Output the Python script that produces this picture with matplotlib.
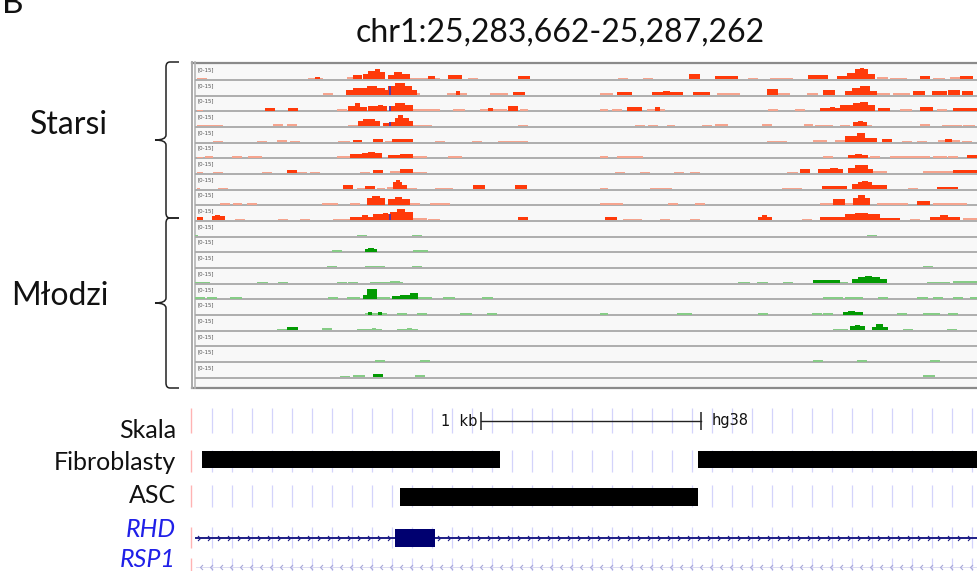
import numpy as np
import matplotlib
matplotlib.use("Agg")
import matplotlib.pyplot as plt
from matplotlib.path import Path
from matplotlib.patches import PathPatch, Rectangle

# ---------------- DATA (bp offsets from chr1:25,283,662; coverage 0-15) ----------------
title = "chr1:25,283,662-25,287,262"
group_labels = ["Starsi", "Młodzi"]
track_range_label = "[0-15]"

starsi_1 = [(18,64,1.5),(523,591,1.5),(555,577,2.5),(700,727,2),(727,768,4),(773,795,5),(795,827,8),
            (827,850,10),(850,873,7),(886,914,4),(914,950,7),(950,986,5),(986,1123,1.5),(1068,1100,3),
            (1159,1223,4),(1250,1295,1.5),(1477,1532,3),(1932,1977,1.5),(2045,2091,1.5),(2255,2305,5),
            (2373,2477,3.5),(2523,2568,1.5),(2623,2727,1.5),(2795,2886,4),(2927,2973,3),(2973,3009,6),
            (3009,3068,10),(3030,3050,11),(3068,3100,5),(3109,3159,2),(3168,3245,1.5),(3305,3350,3),
            (3364,3418,1.5),(3441,3486,2),(3486,3545,3)]
starsi_2 = [(591,636,1.5),(695,727,5),(727,791,7),(791,836,9),(836,873,7),(873,886,5),(886,918,9),
            (918,964,12),(964,995,9),(995,1018,5),(1018,1032,2),(1155,1245,1.5),(1195,1214,4),
            (1350,1432,1.5),(1455,1509,2.5),(1850,1909,1.5),(1927,1995,3),(2086,2227,2.5),(2136,2168,4),
            (2273,2350,2.5),(2382,2486,1.5),(2609,2659,6),(2659,2714,2),(2791,2841,2),(2864,2918,5),
            (2964,2995,4),(2995,3032,7),(3032,3077,9),(3077,3109,4),(3109,3168,2),(3182,3259,1.5),
            (3273,3327,4),(3359,3427,4),(3432,3486,5),(3495,3545,4)]
starsi_3 = [(18,45,1),(327,373,2.5),(432,477,2.5),(655,700,1.5),(705,736,5),(736,759,8),(759,791,4),
            (795,882,4.5),(841,864,6),(895,918,5),(918,964,8),(964,1000,6),(1000,1123,2),(1182,1236,1.5),
            (1305,1373,2),(1341,1364,3),(1373,1427,2),(1432,1477,5),(1486,1523,2),(1850,1886,2),
            (1905,1950,2),(1973,2041,3.5),(2064,2145,2),(2100,2123,4),(2614,2659,1.5),(2736,2782,1.5),
            (2850,2941,2.5),(2895,2918,4),(2941,3000,6),(3000,3032,8),(3032,3068,9),(3068,3100,6),
            (3114,3168,3),(3214,3268,1.5),(3305,3364,4),(3382,3427,2),(3455,3564,2.5)]
starsi_4 = [(18,136,1.5),(364,409,2),(427,473,2),(705,750,1.5),(750,773,5),(773,827,7.5),(827,850,5),
            (864,895,3),(895,918,4),(918,982,8),(932,955,11),(982,1000,5),(1000,1086,1.5),(1477,1523,1.5),
            (2009,2054,1.5),(2068,2114,1.5),(2155,2191,1.5),(2314,2359,1.5),(2373,2432,2),(2586,2632,2),
            (2777,2818,2),(2827,2909,1.5),(2941,2986,1.5),(3000,3064,4),(3023,3045,5),(3064,3086,1.5),
            (3305,3350,2),(3405,3495,1.5),(3500,3555,1.5)]
starsi_5 = [(91,136,1.5),(291,336,1.5),(382,427,2),(441,486,1.5),(659,714,1.5),(727,768,2.5),(818,864,3),
            (873,905,1.5),(905,1000,3),(1100,1145,1.5),(1268,1314,1.5),(1386,1523,1.5),(2609,2700,1.5),
            (2818,2882,2),(2918,2964,2),(2964,3018,6),(3018,3055,9),(3055,3109,4),(3132,3177,3),
            (3223,3268,1.5),(3291,3336,1.5),(3386,3486,2),(3418,3450,3),(3495,3541,1.5)]
starsi_6 = [(18,45,1),(55,91,1.5),(177,223,1.5),(250,314,2),(655,714,1.5),(714,768,4),(768,859,5),
            (795,827,6),(886,941,3),(941,1000,4),(1000,1064,1.5),(1159,1223,2),(1850,1886,1.5),
            (1927,2045,2),(2864,2909,1.5),(2977,3068,3),(3009,3041,4),(3077,3123,1.5),(3168,3350,1.5),
            (3364,3427,2),(3432,3477,1.5),(3518,3564,3)]
starsi_7 = [(18,45,1),(91,136,1.5),(314,359,1.5),(427,473,3),(473,518,1.5),(532,577,1.5),(759,805,1.5),
            (818,864,3),(895,941,2),(941,1000,4),(1000,1064,1.5),(1918,1964,1.5),(2032,2077,1.5),
            (2186,2232,1.5),(2259,2305,1.5),(2700,2750,1.5),(2759,2805,4),(2841,2955,4),(2895,2932,5),
            (2977,3009,5),(3009,3068,8),(3068,3091,4),(3091,3155,2),(3318,3455,2),(3455,3564,3)]
starsi_8 = [(18,32,1),(114,159,1.5),(682,727,4),(745,782,1.5),(782,827,3),(836,873,1.5),(882,909,2),
            (909,950,7),(923,941,9),(950,973,4),(973,1018,1.5),(1100,1182,1.5),(1273,1327,4),(1464,1518,4),
            (1850,1886,1.5),(2077,2177,1.5),(2677,2768,1.5),(2859,2973,3),(2995,3023,5),(3023,3086,7),
            (3041,3068,8),(3086,3155,4),(3250,3295,1.5),(3382,3477,2.5)]
starsi_9 = [(123,168,1.5),(182,223,1.5),(245,291,1.5),(586,659,1.5),(714,759,1.5),(791,873,7),
            (814,850,8.5),(886,986,6),(918,950,8),(986,1032,1.5),(1077,1168,1.5),(1850,1955,1.5),
            (2159,2205,1.5),(2282,2327,1.5),(2850,2909,2),(2909,2964,6),(2964,3000,2),(3000,3077,7),
            (3023,3055,10),(3109,3168,2),(3168,3250,1.5),(3291,3350,4),(3364,3518,1.5)]
starsi_10 = [(18,45,3),(86,145,4),(100,123,5),(191,236,1.5),(386,432,1.5),(486,532,1.5),(636,714,1.5),
             (714,818,3.5),(768,795,5),(818,895,6),(864,886,7),(895,1000,8),(927,964,11),(1000,1064,2),
             (1068,1123,1.5),(1477,1523,3),(1873,1927,3),(1955,2041,1.5),(2123,2168,1.5),(2259,2305,1.5),
             (2568,2632,3),(2586,2609,5),(2768,2814,1.5),(2850,2964,3.5),(2964,3123,6),(3009,3068,7),
             (3123,3214,2.5),(3259,3305,1.5),(3350,3486,3.5),(3395,3432,5),(3500,3564,2)]

mlodzi_1 = [(9,23,1.5),(745,791,1.5),(995,1041,1.5),(3064,3109,1.5)]
mlodzi_2 = [(632,677,1.5),(782,836,3),(795,823,4),(1000,1068,1.5),(1023,1045,2)]
mlodzi_3 = [(609,655,1.5),(782,873,1.5),(995,1041,1.5),(3318,3364,1.5)]
mlodzi_4 = [(9,77,1.5),(291,341,1.5),(386,432,1.5),(655,700,1.5),(705,750,1.5),(805,955,1.5),(895,941,2),
            (2477,2532,1.5),(2564,2614,1.5),(2682,2727,1.5),(2818,2895,3),(2895,2941,3),(2941,2977,1.5),
            (2995,3023,4),(3023,3123,6),(3055,3086,7),(3123,3155,4),(3336,3441,1.5),(3455,3564,2)]
mlodzi_5 = [(9,55,1.5),(64,109,1.5),(168,223,1.5),(614,659,1.5),(700,759,1.5),(723,741,2),(773,791,4),
            (791,836,10),(836,864,2),(864,895,1.5),(905,941,3),(941,986,4),(986,1023,6),(1023,1086,2),
            (1136,1191,1.5),(1314,1364,2),(2864,2909,1.5),(2909,2955,2),(2964,3045,1.5),(3114,3159,1.5),
            (3291,3341,1.5),(3364,3409,1.5),(3455,3500,1.5),(3532,3564,1.5)]
mlodzi_6 = [(782,882,2),(795,814,3),(841,859,3),(927,973,1.5),(1018,1064,2),(1214,1268,1.5),
            (1336,1382,1.5),(1850,1886,1.5),(2200,2268,2),(2568,2614,1.5),(2814,2859,1.5),(2864,2909,1.5),
            (2955,3045,3),(2977,3009,4),(3200,3245,2),(3318,3395,1.5),(3432,3477,2)]
mlodzi_7 = [(382,427,1.5),(427,477,3),(586,632,2),(745,859,1.5),(814,832,2),(927,1023,1.5),(973,995,2),
            (2909,2977,1.5),(2986,3055,4),(3009,3032,5),(3086,3159,3),(3105,3136,6),(3227,3273,1.5),
            (3427,3473,1.5)]
mlodzi_8 = []
mlodzi_9 = [(827,873,1.5),(1032,1077,1.5),(2818,2864,1.5),(3018,3064,1.5),(3350,3395,1.5)]
mlodzi_10 = [(668,714,1.5),(727,782,2),(818,864,3.5),(1009,1055,2),(3318,3373,2)]

starsi_tracks = [starsi_1, starsi_2, starsi_3, starsi_4, starsi_5,
                 starsi_6, starsi_7, starsi_8, starsi_9, starsi_10]
mlodzi_tracks = [mlodzi_1, mlodzi_2, mlodzi_3, mlodzi_4, mlodzi_5,
                 mlodzi_6, mlodzi_7, mlodzi_8, mlodzi_9, mlodzi_10]

# small purple marks inside some Starsi tracks (track index, height)
mark_pos = 892
mark_tracks = [(1, 9), (2, 5), (3, 4), (9, 6)]

# annotation rows
row_labels = ["Skala", "Fibroblasty", "ASC", "RHD", "RSP1"]
scale_bar = (1309, 2309)          # 1 kb
scale_text = ("1  kb", "hg38")
fibroblasty = [(41, 1395), (2295, 3600)]
asc = [(941, 2295)]
rhd_span = (14, 3600)
rhd_exon = (918, 1100)
rsp1_span = (14, 3600)

# ---------------- LAYOUT ----------------
W, H = 977, 571
fig = plt.figure(figsize=(W / 100, H / 100), dpi=100)
BPPX = 1000 / 220.0
ORIGIN = 193
FONT = ["Lato", "DejaVu Sans"]

def rect(x0, x1, y0, y1):
    return [x0 / W, 1 - y1 / H, (x1 - x0) / W, (y1 - y0) / H]

def xlim_px(x0, x1):
    return ((x0 - ORIGIN) * BPPX, (x1 - ORIGIN) * BPPX)

# background axes in pixel coordinates
bg = fig.add_axes([0, 0, 1, 1], zorder=0)
bg.set_xlim(0, W); bg.set_ylim(H, 0); bg.axis("off")
bg.add_patch(Rectangle((195, 64), W - 195, 323, facecolor="#f8f8f8", edgecolor="none"))
bg.plot([192, W], [63, 63], color="#8a8a8a", lw=1.6)
bg.plot([192, W], [387.5, 387.5], color="#8a8a8a", lw=1.6)
bg.plot([192, 192], [62, 388], color="#a9a9a9", lw=1.4)
bg.plot([194.8, 194.8], [62, 388], color="#b5b5b5", lw=1.2)

baselines = [79.3 + i * 15.68 for i in range(20)]
for b in baselines:
    bg.plot([195, W], [b + 0.6, b + 0.6], color="#a8a8a8", lw=1.3, solid_capstyle="butt")

RED, RED_L = "#ff3a0a", "#f6a48e"
GRN, GRN_L = "#039a03", "#86cc86"

def draw_track(i, segs, col, col_l):
    b = baselines[i]
    ax = fig.add_axes(rect(195, W, b - 15.0, b), zorder=1)
    ax.set_xlim(*xlim_px(195, W)); ax.set_ylim(0, 15.0)
    ax.axis("off"); ax.patch.set_alpha(0)
    for s, e, v in segs:
        ax.bar(s, v, width=e - s, align="edge", color=(col_l if v <= 2 else col),
               lw=0, antialiased=True)
    return ax

track_axes = []
for i, segs in enumerate(starsi_tracks):
    track_axes.append(draw_track(i, segs, RED, RED_L))
for i, segs in enumerate(mlodzi_tracks):
    track_axes.append(draw_track(10 + i, segs, GRN, GRN_L))
for ti, hgt in mark_tracks:
    track_axes[ti].bar(mark_pos, hgt, width=6, align="edge", color="#5b3aa0", lw=0)

# overlay axes for text / braces
ov = fig.add_axes([0, 0, 1, 1], zorder=3)
ov.set_xlim(0, W); ov.set_ylim(H, 0); ov.axis("off"); ov.patch.set_alpha(0)
for b in baselines:
    ov.text(197, b - 9.5, track_range_label, fontsize=3.9, color="#505050",
            family="DejaVu Sans", va="center", ha="left")

ov.text(560, 42, title, fontsize=23, family=FONT, ha="center", va="baseline", color="#111111")
ov.text(2, 13, "B", fontsize=24, family=FONT, ha="left", va="baseline", color="#111111")
ov.text(108, 134, group_labels[0], fontsize=23, family=FONT, ha="right", va="baseline", color="#111111")
ov.text(108, 305, group_labels[1], fontsize=23, family=FONT, ha="right", va="baseline", color="#111111")

def brace(y0, y1, xv=166, xh=179, xp=155):
    ym = (y0 + y1) / 2
    verts = [(xh, y0), (xv + 4, y0), (xv, y0), (xv, y0 + 5), (xv, ym - 5), (xv, ym), (xp, ym),
             (xv, ym), (xv, ym + 5), (xv, y1 - 5), (xv, y1), (xv + 4, y1), (xh, y1)]
    codes = [Path.MOVETO, Path.LINETO, Path.CURVE3, Path.CURVE3, Path.LINETO, Path.CURVE3, Path.CURVE3,
             Path.CURVE3, Path.CURVE3, Path.LINETO, Path.CURVE3, Path.CURVE3, Path.LINETO]
    ov.add_patch(PathPatch(Path(verts, codes), facecolor="none", edgecolor="#222222", lw=1.1))

brace(62, 218)
brace(218, 388)

# ---------------- annotation panel ----------------
an = fig.add_axes(rect(185, W, 400, H), zorder=1)
an.set_xlim(*xlim_px(185, W)); an.set_ylim(H, 400); an.axis("off"); an.patch.set_alpha(0)

row_spans = [(408, 433), (450, 472), (485, 507), (527, 548), (558, 572)]
row_text_y = [438, 470, 503, 537, 567]
grid_bp = np.arange((212 - ORIGIN) * BPPX, 3600, 20 * BPPX)
pink_bp = (191 - ORIGIN) * BPPX
for (y0, y1) in row_spans:
    an.vlines(grid_bp, y0, y1, color="#d3d3fb", lw=0.9)
    an.vlines([pink_bp], y0, y1, color="#ffb3b3", lw=1.0)

# scale bar
sy = 421
an.plot(scale_bar, [sy, sy], color="#222222", lw=1.0)
an.vlines(scale_bar, 412, 430, color="#222222", lw=1.1)
an.text(scale_bar[0] - 18, sy, scale_text[0], fontsize=10.5, family="DejaVu Sans", ha="right",
        va="center", color="#111111")
an.text(scale_bar[1] + 48, sy, scale_text[1], fontsize=10.5, family="DejaVu Sans", ha="left",
        va="center", color="#111111")

for s, e in fibroblasty:
    an.add_patch(Rectangle((s, 451), e - s, 17, facecolor="black", edgecolor="none", zorder=3))
for s, e in asc:
    an.add_patch(Rectangle((s, 488), e - s, 18, facecolor="black", edgecolor="none", zorder=3))

# RHD gene model
navy = "#1d1d86"
an.plot(rhd_span, [538, 538], color=navy, lw=1.4, zorder=3)
chev_r = Path([(-1, 1), (0, 0), (-1, -1)], [Path.MOVETO, Path.LINETO, Path.LINETO])
chev_l = Path([(1, 1), (0, 0), (1, -1)], [Path.MOVETO, Path.LINETO, Path.LINETO])
rhd_ticks = np.arange(rhd_span[0] + 20, rhd_span[1], 10 * BPPX)
rhd_ticks = rhd_ticks[(rhd_ticks < rhd_exon[0]) | (rhd_ticks > rhd_exon[1])]
an.plot(rhd_ticks, np.full(len(rhd_ticks), 538), ls="none", marker=chev_r, ms=3.6,
        mfc="none", mec=navy, mew=0.8, zorder=3)
an.add_patch(Rectangle((rhd_exon[0], 529), rhd_exon[1] - rhd_exon[0], 18, facecolor="#000070",
                       edgecolor="none", zorder=4))

# RSP1 (faint)
an.plot(rsp1_span, [567, 567], color="#dcdcf2", lw=0.7, zorder=2)
rsp_ticks = np.arange(rsp1_span[0] + 20, rsp1_span[1], 10 * BPPX)
an.plot(rsp_ticks, np.full(len(rsp_ticks), 567), ls="none", marker=chev_l, ms=3.6,
        mfc="none", mec="#a9a9d9", mew=0.8, zorder=3)

# row labels
for k, (lab, y) in enumerate(zip(row_labels, row_text_y)):
    if k < 3:
        ov.text(176, y, lab, fontsize=18, family=FONT, ha="right", va="baseline", color="#111111")
    else:
        ov.text(176, y, lab, fontsize=18, family=FONT, ha="right", va="baseline",
                color="#2020e8", style="italic")

fig.savefig("out.png", dpi=100)
